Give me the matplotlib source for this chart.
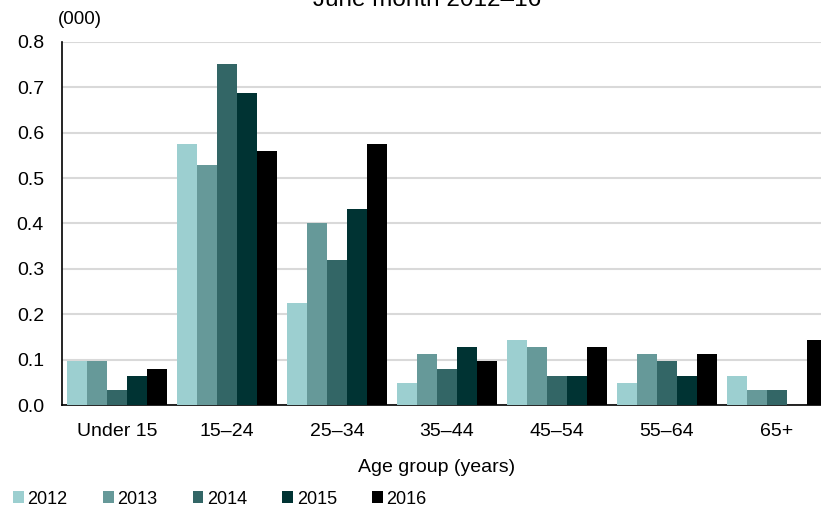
import matplotlib.pyplot as plt
import numpy as np

plt.rcParams["font.family"] = ["Liberation Sans", "DejaVu Sans"]

categories = ["Under 15", "15–24", "25–34", "35–44", "45–54", "55–64", "65+"]
years = ["2012", "2013", "2014", "2015", "2016"]
values = {
    "2012": [0.096, 0.576, 0.224, 0.048, 0.144, 0.048, 0.064],
    "2013": [0.096, 0.528, 0.400, 0.112, 0.128, 0.112, 0.032],
    "2014": [0.032, 0.752, 0.320, 0.080, 0.064, 0.096, 0.032],
    "2015": [0.064, 0.688, 0.432, 0.128, 0.064, 0.064, 0.000],
    "2016": [0.080, 0.560, 0.576, 0.096, 0.128, 0.112, 0.144],
}
colors = ["#9CCFD0", "#669999", "#336666", "#003333", "#000000"]

fig = plt.figure(figsize=(8.21, 5.14), dpi=100)
ax = fig.add_axes([62 / 821, 1 - 405 / 514, 770 / 821, 363 / 514])

x = np.arange(len(categories))
bw = 0.182
for i, yr in enumerate(years):
    ax.bar(x + (i - 2) * bw, values[yr], width=bw, color=colors[i],
           linewidth=0, label=yr, zorder=3)

ax.set_xlim(-0.5, len(categories) - 0.5)
ax.set_ylim(0, 0.8)
ax.set_yticks(np.arange(0, 0.81, 0.1))
ax.set_yticklabels([f"{v:.1f}" for v in np.arange(0, 0.81, 0.1)])
ax.set_xticks(x)
ax.set_xticklabels(categories)
ax.tick_params(axis="both", length=0, labelsize=14, colors="black")
ax.tick_params(axis="x", pad=13)
ax.tick_params(axis="y", pad=13)
ax.yaxis.grid(True, color="#D9D9D9", linewidth=1.5, zorder=0)
ax.set_axisbelow(True)
for s in ["top", "right"]:
    ax.spines[s].set_visible(False)
ax.spines["left"].set_linewidth(1.2)
ax.spines["bottom"].set_linewidth(1.2)

fig.text(437 / 821, 1 - 468 / 514, "Age group (years)", ha="center", va="center", fontsize=14)
fig.text(58 / 821, 1 - 20 / 514, "(000)", ha="left", va="center", fontsize=13.5)
# title sits mostly above the canvas in the reference
fig.text(427 / 821, 1 - 6 / 514, "June month 2012–16", ha="center", va="baseline", fontsize=17.5)

fig.legend(loc="center left", bbox_to_anchor=(13 / 821, 1 - 499 / 514), ncol=5,
           frameon=False, fontsize=13, handlelength=0.6, handleheight=0.6,
           handletextpad=0.2, columnspacing=1.95, borderaxespad=0, borderpad=0)

fig.savefig("out.png", dpi=100)
